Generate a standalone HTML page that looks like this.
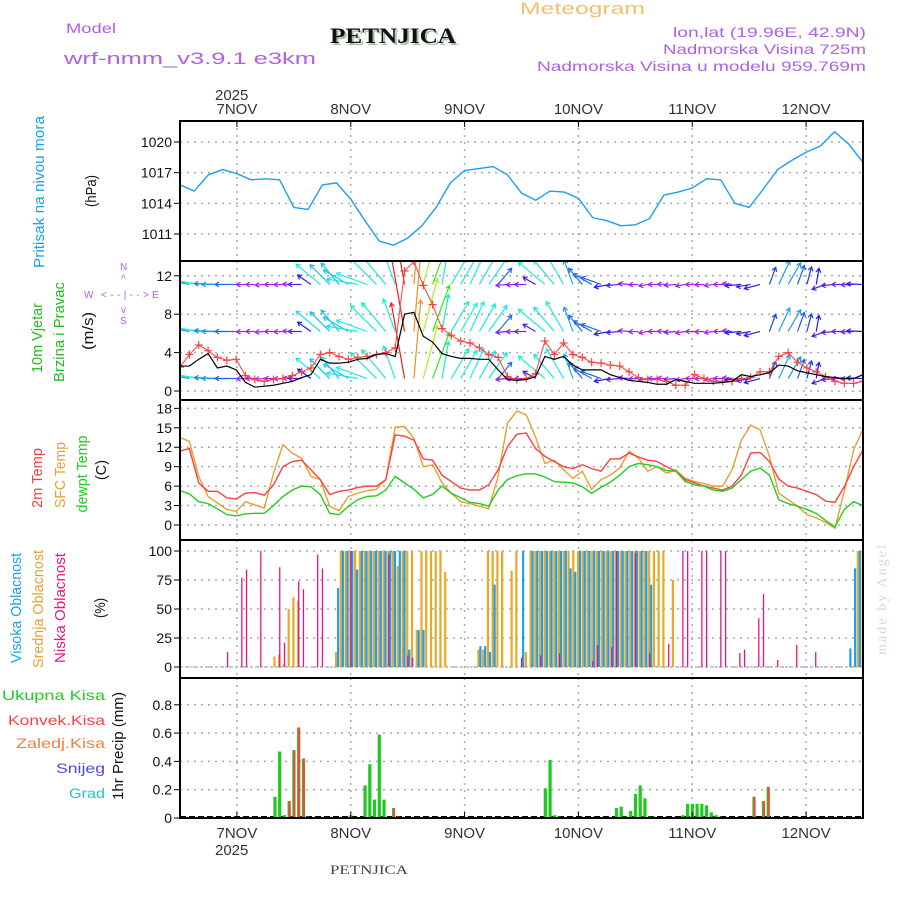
<!DOCTYPE html>
<html><head><meta charset="utf-8"><style>
html,body{margin:0;padding:0;background:#fff;}
svg{display:block;font-family:"Liberation Sans",sans-serif;}
</style></head><body>
<svg id="c" width="900" height="900" viewBox="0 0 900 900" xmlns="http://www.w3.org/2000/svg">
<g>
<text x="66" y="33" font-size="14" fill="#b060e8" textLength="50" lengthAdjust="spacingAndGlyphs">Model</text>
<text x="64" y="64" font-size="17" fill="#b060e8" textLength="252" lengthAdjust="spacingAndGlyphs">wrf-nmm_v3.9.1  e3km</text>
<text x="332" y="45" font-size="22" font-family="Liberation Serif,serif" font-weight="bold" fill="#a8c0a8" textLength="126" lengthAdjust="spacingAndGlyphs">PETNJICA</text>
<text x="330" y="43" font-size="22" font-family="Liberation Serif,serif" font-weight="bold" fill="#111" textLength="126" lengthAdjust="spacingAndGlyphs">PETNJICA</text>
<text x="520" y="14" font-size="17" fill="#f0c070" textLength="125" lengthAdjust="spacingAndGlyphs">Meteogram</text>
<text x="673" y="37" font-size="14" fill="#b060e8" textLength="193" lengthAdjust="spacingAndGlyphs">lon,lat (19.96E, 42.9N)</text>
<text x="663" y="54" font-size="14" fill="#b060e8" textLength="203" lengthAdjust="spacingAndGlyphs">Nadmorska Visina 725m</text>
<text x="537" y="71" font-size="14" fill="#b060e8" textLength="329" lengthAdjust="spacingAndGlyphs">Nadmorska Visina u modelu 959.769m</text>
<text x="215" y="100" font-size="15" fill="#333">2025</text>
<text x="215" y="855" font-size="15" fill="#333">2025</text>
<text x="330" y="874" font-size="13" font-family="Liberation Serif,serif" fill="#444" textLength="78" lengthAdjust="spacingAndGlyphs">PETNJICA</text>
<text transform="translate(886,655) rotate(-90)" font-size="14" font-family="Liberation Serif,serif" fill="#d0dcd0" textLength="110">made by Angel</text>
</g>
<g font-size="15">
<text transform="translate(44,192) rotate(-90)" text-anchor="middle" fill="#1aa0f0" textLength="152" lengthAdjust="spacingAndGlyphs">Pritisak na nivou mora</text>
<text transform="translate(96,191) rotate(-90)" text-anchor="middle" fill="#111" textLength="32" lengthAdjust="spacingAndGlyphs">(hPa)</text>
<text transform="translate(42,338) rotate(-90)" text-anchor="middle" fill="#22bb22" textLength="70" lengthAdjust="spacingAndGlyphs">10m Vjetar</text>
<text transform="translate(64,332) rotate(-90)" text-anchor="middle" fill="#22bb22" textLength="100" lengthAdjust="spacingAndGlyphs">Brzina i Pravac</text>
<text transform="translate(93,331) rotate(-90)" text-anchor="middle" fill="#111" textLength="38" lengthAdjust="spacingAndGlyphs">(m/s)</text>
<text transform="translate(42,478) rotate(-90)" text-anchor="middle" fill="#ff4040" textLength="60" lengthAdjust="spacingAndGlyphs">2m Temp</text>
<text transform="translate(65,475) rotate(-90)" text-anchor="middle" fill="#e8a030" textLength="66" lengthAdjust="spacingAndGlyphs">SFC Temp</text>
<text transform="translate(87,474) rotate(-90)" text-anchor="middle" fill="#22cc22" textLength="77" lengthAdjust="spacingAndGlyphs">dewpt Temp</text>
<text transform="translate(106,470) rotate(-90)" text-anchor="middle" fill="#111" textLength="20" lengthAdjust="spacingAndGlyphs">(C)</text>
<text transform="translate(21,608) rotate(-90)" text-anchor="middle" fill="#1aa0f0" textLength="110" lengthAdjust="spacingAndGlyphs">Visoka Oblacnost</text>
<text transform="translate(43,609) rotate(-90)" text-anchor="middle" fill="#e8a030" textLength="118" lengthAdjust="spacingAndGlyphs">Srednja Oblacnost</text>
<text transform="translate(65,608) rotate(-90)" text-anchor="middle" fill="#e8147f" textLength="110" lengthAdjust="spacingAndGlyphs">Niska Oblacnost</text>
<text transform="translate(105,608) rotate(-90)" text-anchor="middle" fill="#111" textLength="20" lengthAdjust="spacingAndGlyphs">(%)</text>
<text transform="translate(123,746) rotate(-90)" text-anchor="middle" fill="#111" textLength="108" lengthAdjust="spacingAndGlyphs">1hr Precip (mm)</text>
<g font-size="14" text-anchor="end">
<text x="105" y="700" fill="#22cc22" textLength="103" lengthAdjust="spacingAndGlyphs">Ukupna Kisa</text>
<text x="105" y="725" fill="#ff4040" textLength="97" lengthAdjust="spacingAndGlyphs">Konvek.Kisa</text>
<text x="105" y="748" fill="#f08040" textLength="89" lengthAdjust="spacingAndGlyphs">Zaledj.Kisa</text>
<text x="105" y="773" fill="#4848f0" textLength="49" lengthAdjust="spacingAndGlyphs">Snijeg</text>
<text x="105" y="798" fill="#20c8c8" textLength="36" lengthAdjust="spacingAndGlyphs">Grad</text>
</g>
</g>
<g fill="#b060e8" font-size="10">
<text x="120" y="270">N</text>
<text x="121" y="282">^</text>
<text x="84" y="298">W</text>
<text x="101" y="298" textLength="48">&lt;--|--&gt;</text>
<text x="152" y="298">E</text>
<text x="121" y="313">v</text>
<text x="120" y="324">S</text>
</g>
<g id="plot"></g>
</svg>
<script>
// ---- data ----
const dayLabels = ["7NOV","8NOV","9NOV","10NOV","11NOV","12NOV"];
const dayHours = [12,36,60,84,108,132];
const pressureTicks = [1011,1014,1017,1020];
const windTicks = [0,4,8,12];
const tempTicks = [0,3,6,9,12,15,18];
const cloudTicks = [0,25,50,75,100];
const precipTicks = [0,0.2,0.4,0.6,0.8];
const pressure = [1015.8,1015.2,1016.8,1017.3,1016.9,1016.3,1016.4,1016.3,1013.6,1013.4,1015.8,1016,1014.4,1012.3,1010.3,1009.9,1010.6,1011.8,1013.6,1016,1017.2,1017.4,1017.6,1016.8,1015,1014.3,1015.2,1015.1,1014.5,1012.6,1012.3,1011.8,1011.9,1012.5,1014.8,1015.1,1015.5,1016.4,1016.3,1014,1013.6,1015.4,1017.3,1018.2,1019,1019.6,1021,1019.8,1018];
const temp2m = [11.4,11.8,6.5,5.2,5.2,4.2,4,4.9,5,4.6,6.2,9,9.8,10,8.5,7,4.7,5.2,5.4,5.8,6,6,7,13.9,13.7,13.1,10.2,10,7.7,6.7,5.7,5.4,5.4,6.2,8.5,12.1,14,14.2,11.8,10.6,9.8,9,8.7,9.3,8.7,8.3,10.2,10.2,11.1,10.5,10,9.8,9,8.3,7,6.5,6,5.7,5.4,6,7.7,11.1,11.2,9.8,7.1,6,5.7,5.2,4.7,3.7,3.5,5.9,9,11.6];
const tempSfc = [13.5,12.9,7.5,4.4,3.4,2.4,2.1,3.6,3.1,2.6,8,12.4,11.1,10.3,7.5,7,2.9,2.2,4.4,4.9,5.3,5.5,7,15.1,15.2,13.4,9,9.3,6.5,4.9,3.6,3.3,2.9,2.5,7.5,15.7,17.6,17,13.6,9.5,10,8.5,7.2,8.3,5.5,7,7.7,8.8,11.4,10.3,8.3,9,8,8.5,7.2,6.7,6.4,6,6,8.5,13.1,15.4,14.7,10.6,4.9,3.9,2.9,1.6,1.1,0.4,-0.5,5.2,11.6,14.8];
const dewpt = [5.3,4.8,3.6,3.3,2.5,1.6,1.4,1.7,1.8,1.8,3,4.4,5.4,6,5.9,4.7,1.8,1.6,2.9,3.9,4.4,4.5,5.4,7.5,6.5,5.5,4.2,4.7,6,4.9,4.2,3.5,3.3,2.9,5.4,7,7.6,7.9,7.9,7.4,6.7,6.6,6.5,5.9,4.9,5.8,6.6,7.7,9,9.5,9.3,9,8.4,8.3,6.7,6.2,6,5.4,5.2,5.7,7,8.3,8.8,7.7,3.9,3.3,2.9,2.4,1.8,0.7,-0.3,2.4,3.6,3];
const windSpeed = [2.6,2.6,3.3,3.9,2.4,2.6,2.2,0.9,0.4,0.5,0.6,0.8,1,1.4,1.7,3.3,2.9,2.9,3,3.3,3.4,3.8,3.9,3.6,8,8.2,5.7,5.1,3.9,3.6,3.4,3.4,3.3,3.3,2.2,1.2,1.1,1.2,1.5,3.6,3.3,3.6,2.7,2.2,2.2,2.2,1.7,1.4,1.1,1,0.9,0.7,0.7,1.2,1,0.8,0.8,0.8,0.9,1,1.7,1.5,1.7,1.9,2.7,2.6,2.1,1.9,1.7,1.5,1.4,1.3,1.3,1.7];
const windGust = [2.5,3.8,4.8,4.2,3.5,3.2,3.3,1.6,1.2,1.0,1.2,1.3,1.6,2.0,2.4,3.8,4.0,3.6,3.3,3.5,3.6,3.8,4.0,4.5,12.5,13.5,11,9,6.5,5.8,5.2,5.0,4.5,3.8,3.5,1.5,1.2,1.3,1.8,5.2,3.8,5.0,3.8,3.5,3.0,2.9,2.7,2.6,2.0,1.4,1.2,1.2,1.0,0.6,0.6,1.7,1.3,1.0,1.0,1.0,1.3,1.4,2.0,2.0,3.6,4.0,3.0,2.4,2.0,1.5,1.0,0.8,0.8,1.0];
const windDir = [285,280,280,275,272,270,270,268,270,265,270,268,272,270,305,310,315,320,300,280,290,315,320,340,350,5,15,20,10,30,30,25,30,35,40,265,268,270,300,310,320,330,340,320,300,290,260,265,275,268,260,270,272,265,260,270,268,262,270,275,265,260,255,20,25,30,20,15,10,250,265,270,268,272];
const windRowLevels = [1.3,6.2,11.1];
const highCloudHours = [33,34,35,36,37,38,39,40,41,42,43,44,45,46,47,48,50,51,63,64,65,66,72,74,75,76,77,78,79,80,81,82,83,84,85,86,87,88,89,90,91,92,93,94,95,96,97,98,99,141,142,143];
const highCloud = [68,100,100,100,84,100,100,100,100,100,100,100,100,100,100,15,32,32,18,18,13,71,100,100,100,100,100,100,100,100,100,85,82,100,100,100,100,100,100,100,100,100,100,100,100,100,100,100,71,16,85,100];
const midCloudHours = [20,21,22,23,24,25,33,34,35,36,37,38,39,40,41,42,43,44,45,46,47,48,49,50,51,52,53,54,55,56,63,64,65,66,67,68,70,71,73,74,75,76,77,78,79,80,81,82,83,84,85,86,87,88,89,90,91,92,93,94,95,96,97,98,99,100,101,102,104,143,144];
const midCloud = [9,11,3,50,60,57,13,100,100,100,100,100,100,100,100,100,100,100,100,87,100,100,100,32,100,100,100,100,100,82,15,15,100,100,100,100,83,100,13,100,100,100,100,100,100,100,100,100,100,100,100,100,100,100,100,100,100,100,100,100,100,100,100,100,100,100,100,100,75,100,100];
const lowCloudHours = [10,13,14,17,21,22,25,26,29,30,36,44,48,49,72,76,80,87,88,91,92,96,99,103,106,107,110,111,114,115,118,119,122,123,126,130,134];
const lowCloud = [13,77,84,100,86,21,74,67,97,85,100,97,10,8,8,10,12,5,19,17,100,98,12,20,100,100,100,100,100,100,12,15,42,63,6,19,13];
const precipHours = [20,21,22,23,24,25,26,27,36,39,40,41,42,43,45,46,77,78,79,80,92,93,94,95,96,97,98,99,100,106,107,108,109,110,111,112,113,114,121,123,124];
const precipTotal = [0.15,0.47,0.02,0.12,0.48,0.64,0.42,0.01,0.02,0.23,0.38,0.13,0.59,0.13,0.07,0.01,0.21,0.41,0.02,0.01,0.07,0.08,0.01,0.05,0.17,0.23,0.14,0.01,0.01,0.02,0.10,0.10,0.10,0.10,0.09,0.04,0.02,0.01,0.15,0.12,0.22];
const convHours = [23,24,25,26,27,45,46,121,123,124];
const precipConv = [0.12,0.47,0.64,0.42,0.01,0.07,0.01,0.15,0.12,0.22];

// ---- scales ----
const X0=180, X1=863, HOURS=144;
const xH = h => X0 + h*(X1-X0)/HOURS;
const panels = [
 {name:'pressure', top:121, bot:261, y:v=>142+(1020-v)*10.22, ticks:pressureTicks},
 {name:'wind', top:261, bot:400, y:v=>391-v*9.6, ticks:windTicks},
 {name:'temp', top:400, bot:540, y:v=>525-v*6.48, ticks:tempTicks},
 {name:'cloud', top:540, bot:678, y:v=>667-v*1.16, ticks:cloudTicks},
 {name:'precip', top:678, bot:818, y:v=>818-v*141.5, ticks:precipTicks}
];
const P = {}; panels.forEach(p=>P[p.name]=p);
const NS='http://www.w3.org/2000/svg';
const root=document.getElementById('plot');
function mk(tag, attrs, parent){const e=document.createElementNS(NS,tag);for(const k in attrs)e.setAttribute(k,attrs[k]);(parent||root).appendChild(e);return e;}
const seriesT = temp2m.map((_,i)=>i*HOURS/(temp2m.length-1));
const pT = pressure.map((_,i)=>i*HOURS/(pressure.length-1));

panels.forEach(p=>{
  const g=mk('g',{});
  
  
  const cp=mk('clipPath',{id:'clip-'+p.name},g);
  mk('rect',{x:X0,y:p.top,width:X1-X0,height:p.bot-p.top},cp);
  p.g=g;
  dayHours.forEach(h=>{
    const l=mk('line',{x1:xH(h),x2:xH(h),y1:p.top,y2:p.bot,stroke:'#aaa','stroke-width':1.5,'stroke-dasharray':'2,5'},g);
    
    
  });
  p.ticks.forEach(t=>{
    const y=p.y(t);
    if(p.name!=='precip'||t>0){
      const l=mk('line',{x1:X0,x2:X1,y1:y,y2:y,stroke:'#aaa','stroke-width':1.5,'stroke-dasharray':'2,5'},g);
      
      
    }
    mk('line',{x1:X0-6,x2:X0-1,y1:y,y2:y,stroke:'#000','stroke-width':1},g);
    const tx=mk('text',{x:X0-8,y:y+5,'text-anchor':'end','font-size':14,fill:'#111'},g);
    tx.textContent = p.name==='precip' ? (t===0?'0':t.toFixed(1)) : String(t);
    
    
  });
});

{
  const p=P.pressure;
  const pl=mk('polyline',{points:pressure.map((v,i)=>xH(pT[i])+','+p.y(v)).join(' '),fill:'none',stroke:'#1aa0f0','stroke-width':1.4,'stroke-linejoin':'round','clip-path':'url(#clip-pressure)'},p.g);
  
  
}
function windColor(s){
  const stops=[[0,285],[1,280],[2,225],[3,190],[4,165],[5,120],[6,60],[7,30],[8,0],[10,330]];
  for(let i=1;i<stops.length;i++){if(s<=stops[i][0]){const a=stops[i-1],b=stops[i],f=(s-a[0])/(b[0]-a[0]);return 'hsl('+(a[1]+(b[1]-a[1])*f)+',85%,52%)';}}
  return 'hsl(330,85%,52%)';
}
{
  const p=P.wind;
  const ag=mk('g',{'clip-path':'url(#clip-wind)'},p.g);
  
  
  windRowLevels.forEach(lv=>{
    windDir.forEach((d,i)=>{
      const s=windSpeed[i], len=Math.max(9, s*9.6);
      const x=xH(seriesT[i]), y=p.y(lv);
      const r=d*Math.PI/180, dx=Math.sin(r)*len, dy=-Math.cos(r)*len;
      const x2=x+dx, y2=y+dy, c=windColor(s);
      const ux=dx/len, uy=dy/len, hl=4;
      const a=mk('path',{d:`M${x},${y}L${x2},${y2}M${x2-hl*ux+hl*0.6*uy},${y2-hl*uy-hl*0.6*ux}L${x2},${y2}L${x2-hl*ux-hl*0.6*uy},${y2-hl*uy+hl*0.6*ux}`,stroke:c,'stroke-width':1.2,fill:'none'},ag);
      
      
    });
  });
  const gl=mk('polyline',{points:windGust.map((v,i)=>xH(seriesT[i])+','+p.y(v)).join(' '),fill:'none',stroke:'#ff4040','stroke-width':1,'clip-path':'url(#clip-wind)'},p.g);
  
  
  windGust.forEach((v,i)=>{
    const x=xH(seriesT[i]), y=p.y(v);
    const m=mk('path',{d:`M${x-4},${y}H${x+4}M${x},${y-4}V${y+4}`,stroke:'#ff4040','stroke-width':1.2,'clip-path':'url(#clip-wind)'},p.g);
    
    
  });
  const sl=mk('polyline',{points:windSpeed.map((v,i)=>xH(seriesT[i])+','+p.y(v)).join(' '),fill:'none',stroke:'#000','stroke-width':1.2},p.g);
  
  
}
[[tempSfc,'#e8a030','sfc-temp-line'],[temp2m,'#ff4040','temp-2m-line'],[dewpt,'#22cc22','dewpt-line']].forEach(([arr,c,n])=>{
  const p=P.temp;
  const l=mk('polyline',{points:arr.map((v,i)=>xH(seriesT[i])+','+p.y(v)).join(' '),fill:'none',stroke:c,'stroke-width':1.4,'clip-path':'url(#clip-temp)'},p.g);
  
  
});
{
  const p=P.cloud;
  const base=mk('line',{x1:X0,x2:X1,y1:p.y(0),y2:p.y(0),stroke:'#bbb','stroke-width':1.5,'stroke-dasharray':'3,2'},p.g);
  
  
  [[midCloudHours,midCloud,'#e8a828',-1.5,2.2,'mid-cloud-bar'],[highCloudHours,highCloud,'#1ea0f0',0.5,2.2,'high-cloud-bar'],[lowCloudHours,lowCloud,'#e8147f',-0.5,1.3,'low-cloud-bar']].forEach(([hs,vs,c,off,w,n])=>{
    vs.forEach((v,i)=>{
      const x=xH(hs[i])+off, y=p.y(v);
      const b=mk('rect',{x:x,y:y,width:w,height:p.y(0)-y,fill:c},p.g);
      
      
    });
  });
}
{
  const p=P.precip;
  const base=mk('line',{x1:X0,x2:X1,y1:p.y(0)-1,y2:p.y(0)-1,stroke:'#000','stroke-width':2,'stroke-dasharray':'6,3'},p.g);
  
  
  precipTotal.forEach((v,i)=>{
    const x=xH(precipHours[i])-1.5, y=p.y(v);
    const b=mk('rect',{x:x,y:y,width:3.2,height:p.y(0)-y,fill:'#22c822'},p.g);
    
    
  });
  precipConv.forEach((v,i)=>{
    const x=xH(convHours[i])-0.5, y=p.y(v);
    const b=mk('rect',{x:x,y:y,width:2,height:p.y(0)-y,fill:'#ff4040'},p.g);
    
    
  });
}
panels.forEach(p=>{
  const r=mk('rect',{x:X0,y:p.top,width:X1-X0,height:p.bot-p.top,fill:'none',stroke:'#000','stroke-width':2});
  
  
});
dayLabels.forEach((d,i)=>{
  const x=xH(dayHours[i]);
  [114,838].forEach(y=>{
    const t=mk('text',{x:x,y:y,'text-anchor':'middle','font-size':15,fill:'#333'});
    t.textContent=d;
    
    
  });
  mk('line',{x1:x,x2:x,y1:121,y2:127,stroke:'#000','stroke-width':1});
  mk('line',{x1:x,x2:x,y1:812,y2:818,stroke:'#000','stroke-width':1});
});
</script>
</body></html>
